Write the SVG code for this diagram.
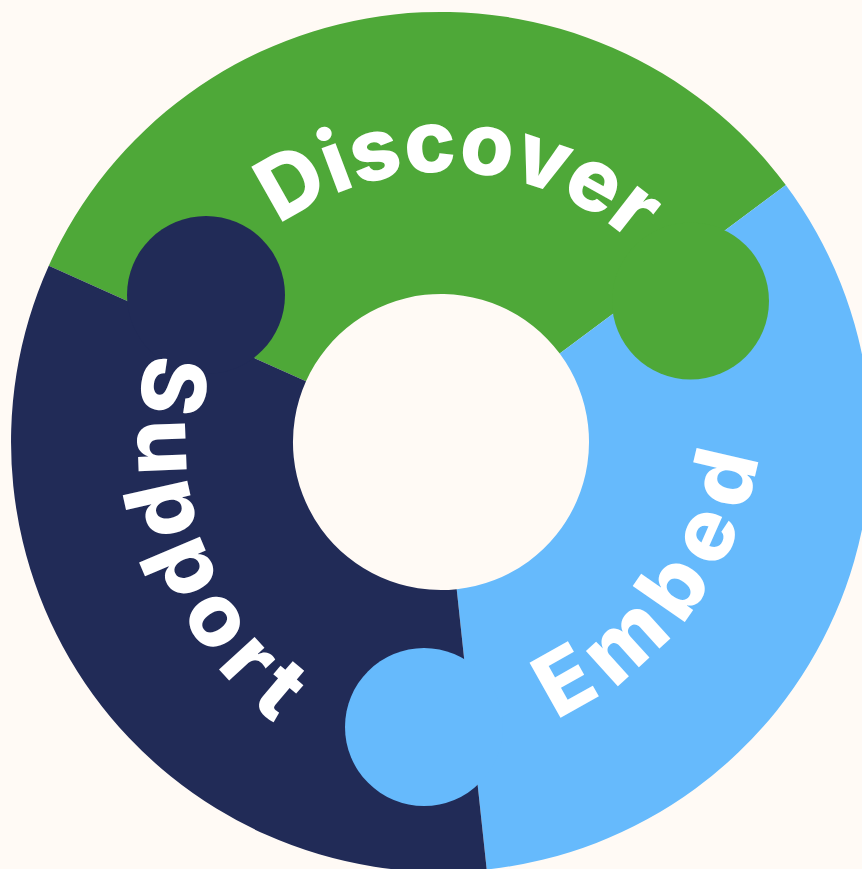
<svg xmlns="http://www.w3.org/2000/svg" width="862" height="869" viewBox="0 0 862 869">
  <style>
    .bg { fill: #FFFAF5; }
    .green { fill: #4EA838; }
    .blue { fill: #66BAFC; }
    .navy { fill: #212B57; }
    .label { fill: #FFFFFF; font-family: Inter, "Noto Sans", "Liberation Sans", sans-serif; font-weight: 800; font-size: 87px; }
  </style>
  <defs>
    <!-- baseline arcs for the curved labels -->
    <path id="arcDiscover" d="M 162 455 A 283 283 0 0 1 728 455"/>
    <path id="arcEmbed" d="M 188.5 667.1 A 350 350 0 0 0 681.6 174"/>
    <path id="arcSupport" d="M 376.2 99.8 A 362 362 0 0 0 562.9 796.5"/>
  </defs>

  <rect class="bg" x="0" y="0" width="862" height="869"/>

  <!-- ring segments -->
  <g id="discover">
    <path class="green" d="M 48.8 265.7 A 430 430 0 0 1 785.8 185.0 L 559.7 353.6 A 148 148 0 0 0 306.0 381.3 Z"/>
  </g>
  <g id="embed">
    <path class="blue" d="M 785.8 185.0 A 430 430 0 0 1 486.7 869.5 L 456.7 589.2 A 148 148 0 0 0 559.7 353.6 Z"/>
  </g>
  <g id="support">
    <path class="navy" d="M 486.7 869.5 A 430 430 0 0 1 48.8 265.7 L 306.0 381.3 A 148 148 0 0 0 456.7 589.2 Z"/>
  </g>

  <!-- puzzle knobs -->
  <g id="knobs">
    <circle class="green" cx="690.5" cy="301" r="78.5"/>
    <circle class="navy" cx="206" cy="295" r="79"/>
    <circle class="blue" cx="424" cy="727" r="79"/>
  </g>

  <!-- labels -->
  <g id="labels">
    <text class="label" text-anchor="middle"><textPath href="#arcDiscover" startOffset="458.4">Discover</textPath></text>
    <text class="label" text-anchor="middle" letter-spacing="12"><textPath href="#arcEmbed" startOffset="569">Embed</textPath></text>
    <text class="label" text-anchor="middle" letter-spacing="10" style="font-size:88px"><textPath href="#arcSupport" startOffset="566">Support</textPath></text>
  </g>
</svg>
